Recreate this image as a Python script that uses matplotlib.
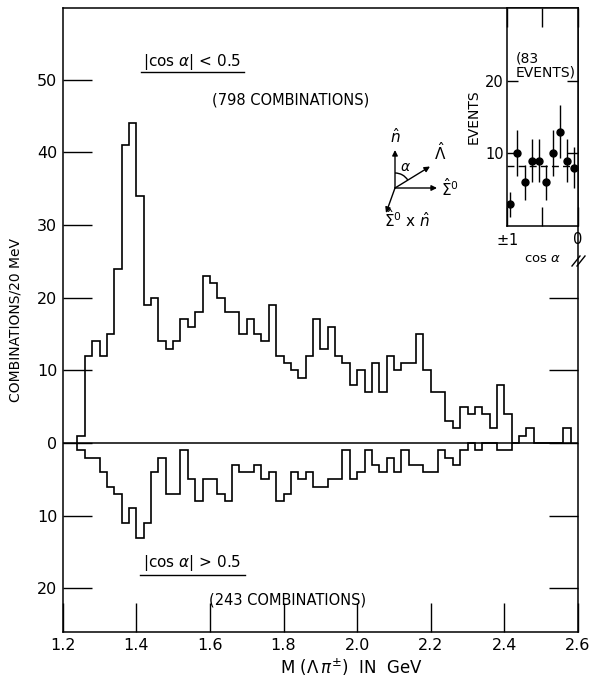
import numpy as np
import matplotlib
matplotlib.use("Agg")
import matplotlib.pyplot as plt
from matplotlib.patches import Arc

# 20 MeV bins, first bin starts at 1.24 GeV
bin_start = 1.24
bin_width = 0.02

# |cos a| < 0.5  (798 combinations), drawn upward
counts_small = [1, 12, 14, 12, 15, 24, 41, 44, 34, 19,
                20, 14, 13, 14, 17, 16, 18, 23, 22, 20,
                18, 18, 15, 17, 15, 14, 19, 12, 11, 10,
                9, 12, 17, 13, 16, 12, 11, 8, 10, 7,
                11, 7, 12, 10, 11, 11, 15, 10, 7, 7,
                3, 2, 5, 4, 5, 4, 2, 8, 4, 0,
                1, 2, 0, 0, 0, 0, 2]

# |cos a| > 0.5  (243 combinations), drawn downward
counts_large = [1, 2, 2, 4, 6, 7, 11, 9, 13, 11,
                4, 2, 7, 7, 1, 5, 8, 5, 5, 7,
                8, 3, 4, 4, 3, 5, 4, 8, 7, 4,
                5, 4, 6, 6, 5, 5, 1, 5, 4, 1,
                3, 4, 2, 4, 1, 3, 3, 4, 4, 1,
                2, 3, 1, 0, 1, 0, 0, 1, 1]

# inset: 83 events in the 1.4 GeV peak vs cos a
inset_cos = [0.95, 0.85, 0.75, 0.65, 0.55, 0.45, 0.35, 0.25, 0.15, 0.05]
inset_events = [3, 10, 6, 9, 9, 6, 10, 13, 9, 8]

x_ticks = [1.2, 1.4, 1.6, 1.8, 2.0, 2.2, 2.4, 2.6]
y_ticks = [-20, -10, 0, 10, 20, 30, 40, 50]

W, H = 592, 686
fig = plt.figure(figsize=(W / 100, H / 100), dpi=100)
plt.rcParams['font.family'] = ['DejaVu Sans']


def px_box(x0, y0, x1, y1):
    # pixel box (top-left origin) -> figure fraction rect
    return [x0 / W, 1 - y1 / H, (x1 - x0) / W, (y1 - y0) / H]


ax = fig.add_axes(px_box(62.7, 8.3, 578, 632))
edges_s = bin_start + bin_width * np.arange(len(counts_small) + 1)
edges_l = bin_start + bin_width * np.arange(len(counts_large) + 1)
ax.stairs(counts_small, edges_s, baseline=0, color='k', lw=1.2)
ax.stairs(-np.array(counts_large), edges_l, baseline=0, color='k', lw=1.2)
ax.axhline(0, color='k', lw=1.1)

ax.set_xlim(1.2, 2.6)
ax.set_ylim(-26, 59.8)
ax.set_xticks(x_ticks)
ax.set_xticklabels(['%.1f' % v for v in x_ticks])
ax.set_yticks(y_ticks)
ax.set_yticklabels([str(abs(v)) for v in y_ticks])
ax.tick_params(direction='in', length=21, width=1, labelsize=11.5, pad=4,
               right=True, labelright=False)
for s in ax.spines.values():
    s.set_linewidth(1.1)

ax.set_xlabel(r'M ($\Lambda\,\pi^{\pm}$)  IN  GeV', fontsize=12)
ax.xaxis.set_label_coords(0.561, -0.039)
ax.set_ylabel('COMBINATIONS/20 MeV', fontsize=10, labelpad=10)

# region titles
ax.text(1.551, 52.4, r'|cos $\alpha$| < 0.5', ha='center', va='center', fontsize=11)
ax.plot([1.413, 1.693], [51.0, 51.0], color='k', lw=1)
ax.text(1.818, 47.2, '(798 COMBINATIONS)', ha='center', va='center', fontsize=10.5)
ax.text(1.551, -16.5, r'|cos $\alpha$| > 0.5', ha='center', va='center', fontsize=11)
ax.plot([1.41, 1.695], [-18.2, -18.2], color='k', lw=1)
ax.text(1.812, -21.6, '(243 COMBINATIONS)', ha='center', va='center', fontsize=10.5)

# inset
axi = fig.add_axes(px_box(506.7, 8.3, 578, 226))
axi.errorbar(inset_cos, inset_events, yerr=np.sqrt(inset_events), fmt='o',
             color='k', ms=5, elinewidth=1, capsize=0)
axi.axhline(np.mean(inset_events), color='k', lw=1, ls=(0, (5, 3)))
axi.set_xlim(1, 0)
axi.set_ylim(0, 30)
axi.set_xticks([1, 0.5, 0])
axi.set_xticklabels([r'$\pm$1', '', '0'])
axi.set_yticks([10, 20])
axi.tick_params(axis='x', direction='in', length=14, width=1, top=True,
                labelsize=10.5, pad=4)
axi.tick_params(axis='y', direction='in', length=8, width=1, right=True,
                labelsize=10.5, pad=2)
for s in axi.spines.values():
    s.set_linewidth(1.1)
axi.set_xlabel(r'cos $\alpha$', fontsize=9.5, labelpad=3)
axi.set_ylabel('EVENTS', fontsize=10, labelpad=3)
axi.text(0.12, 0.8, '(83\nEVENTS)', transform=axi.transAxes, ha='left',
         va='top', fontsize=10, linespacing=1.0)

# vector diagram and axis break, in pixel coordinates
ov = fig.add_axes([0, 0, 1, 1])
ov.set_xlim(0, W)
ov.set_ylim(H, 0)
ov.axis('off')
ov.patch.set_alpha(0)

o = (395, 188)
arrow = dict(arrowstyle='-|>', color='k', lw=1, mutation_scale=8,
             shrinkA=0, shrinkB=0)
for tip in [(395, 150), (430, 166.5), (437, 188), (386, 213)]:
    ov.annotate('', xy=tip, xytext=o, arrowprops=arrow)
ov.add_patch(Arc(o, 30, 30, theta1=-90, theta2=-31.7, color='k', lw=1))
ov.text(395, 137, r'$\hat{n}$', ha='center', va='center', fontsize=11)
ov.text(440, 152, r'$\hat{\Lambda}$', ha='center', va='center', fontsize=11)
ov.text(441, 188, r'$\hat{\Sigma}^{0}$', ha='left', va='center', fontsize=11)
ov.text(384, 219, r'$\hat{\Sigma}^{0}$ x $\hat{n}$', ha='left', va='center', fontsize=11)
ov.text(405, 167, r'$\alpha$', ha='center', va='center', fontsize=10)

ov.plot([572, 580], [266, 256], color='k', lw=1)
ov.plot([577, 585], [266, 256], color='k', lw=1)

fig.savefig('out.png', dpi=100)
